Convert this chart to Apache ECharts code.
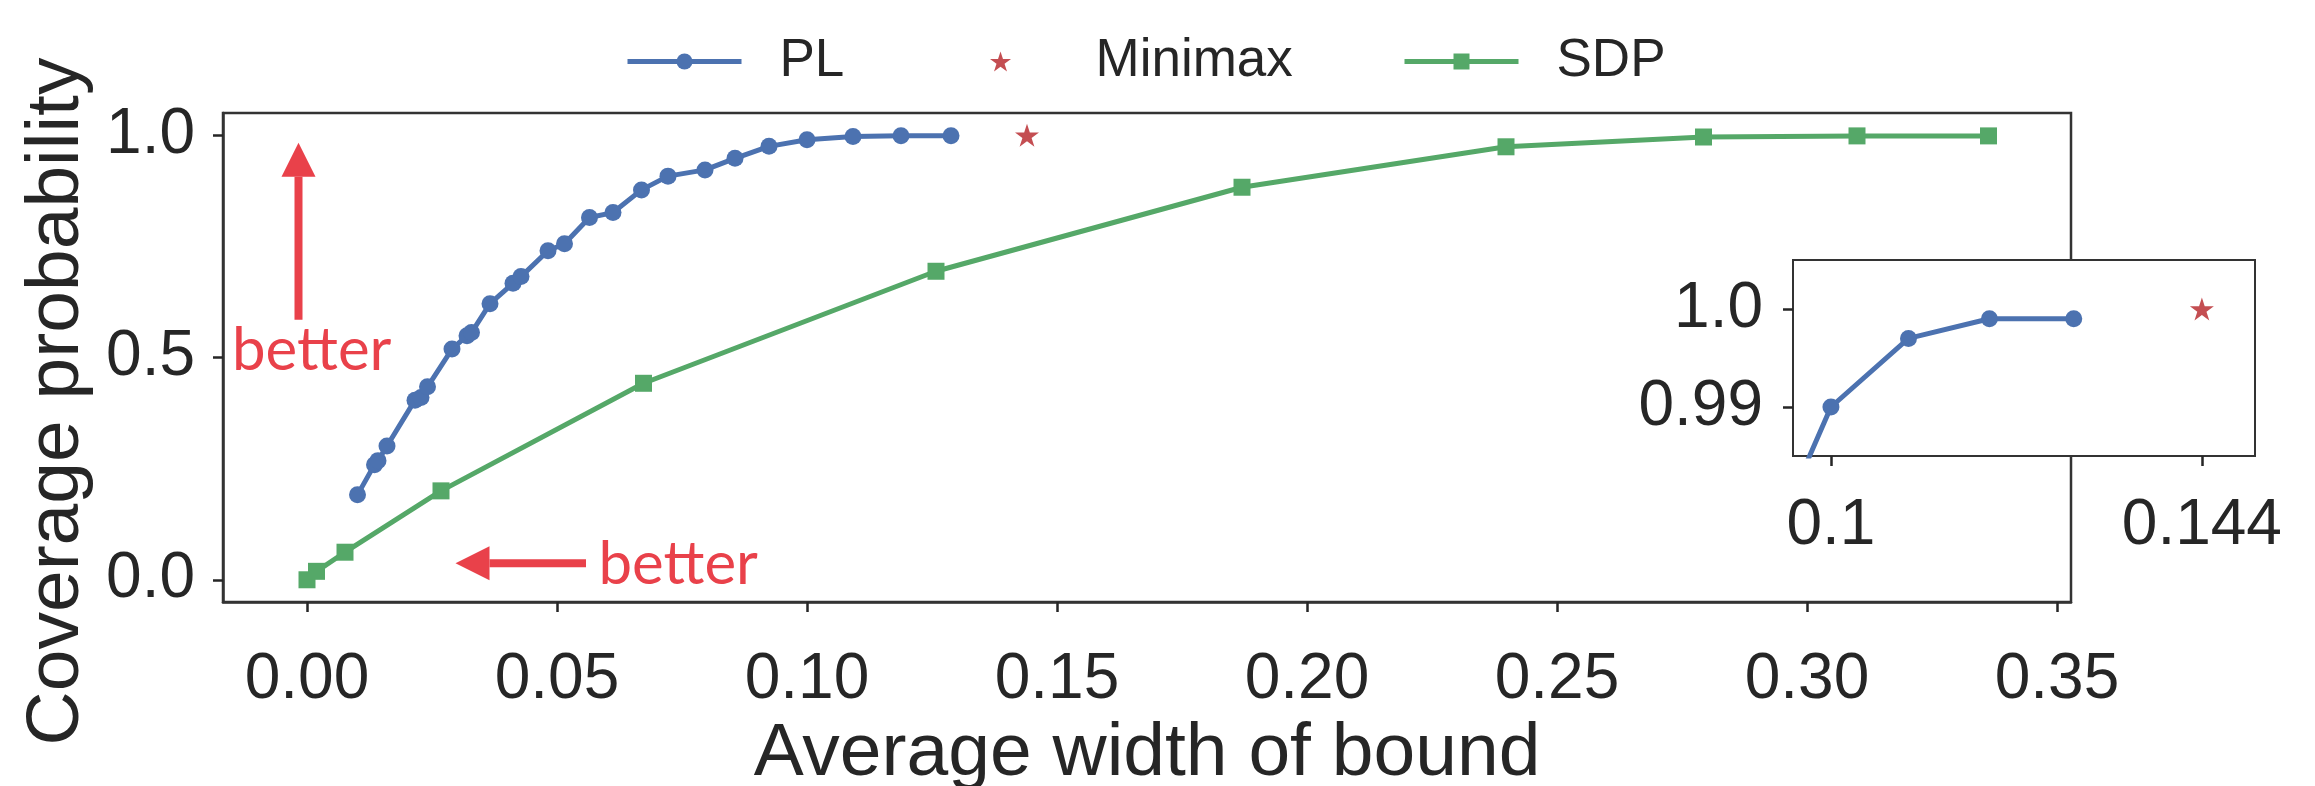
<!DOCTYPE html>
<html>
<head>
<meta charset="utf-8">
<script src="https://cdn.jsdelivr.net/npm/echarts@6/dist/echarts.min.js"></script>
<style>
  html, body { margin: 0; padding: 0; background: #fff; }
  #chart { width: 2315px; height: 786px; }
</style>
</head>
<body>
<div id="chart"></div>
<script>
// values
const plWidth = [0.0101, 0.0135, 0.0142, 0.0160, 0.0216, 0.0228, 0.0241, 0.0290, 0.0320, 0.0329,
  0.0366, 0.0412, 0.0428, 0.0482, 0.0515, 0.0565, 0.0612, 0.0669, 0.0722, 0.0796,
  0.0856, 0.0924, 0.1000, 0.1092, 0.1188, 0.1288]
const plCoverage = [0.191, 0.259, 0.268, 0.301, 0.404, 0.410, 0.434, 0.519, 0.549, 0.556,
  0.621, 0.667, 0.682, 0.740, 0.756, 0.815, 0.826, 0.877, 0.908, 0.922,
  0.948, 0.975, 0.990, 0.997, 0.999, 0.999]
const sdpWidth = [0.0000, 0.0019, 0.0076, 0.0268, 0.0673, 0.1258, 0.1870, 0.2398, 0.2793, 0.3100, 0.3363]
const sdpCoverage = [0.000, 0.019, 0.062, 0.200, 0.442, 0.694, 0.883, 0.974, 0.996, 0.9985, 0.9985]
const minimaxWidth = [0.144]
const minimaxCoverage = [1.0]

const xTicks = [0, 0.05, 0.1, 0.15, 0.2, 0.25, 0.3, 0.35]
const yTicks = [0, 0.5, 1.0]
const insetXTicks = [0.1, 0.144]
const insetXLabels = ['0.1', '0.144']
const insetYTicks = [0.99, 1.0]
const insetYLabels = ['0.99', '1.0']

const zip = (a, b) => a.map((v, i) => [v, b[i]])

const BLUE = '#4c72b0'
const GREEN = '#55a868'
const RED = '#c44e52'
const ARROW = '#e9414a'
const INK = '#262626'
const FONT = '"Liberation Sans", Arial, sans-serif'
const STAR = 'path://M50,0 L61.2,34.5 L97.6,34.5 L68.2,55.9 L79.4,90.5 L50,69.1 L20.6,90.5 L31.8,55.9 L2.4,34.5 L38.8,34.5 Z'

const tick = { show: true, inside: false, length: 10, lineStyle: { color: INK, width: 2.5 } }
const axisLine = { show: true, onZero: false, lineStyle: { color: '#333', width: 2.5 } }

function legendAt(name, left) {
  return {
    data: [name], left, top: 30,
    itemWidth: 114, itemHeight: 20,
    lineStyle: { width: 5 },
    textStyle: { fontFamily: FONT, fontSize: 53, color: INK, padding: [0, 0, 0, 33] }
  }
}

const chart = echarts.init(document.getElementById('chart'))

chart.setOption({
  animation: false,
  backgroundColor: '#fff',
  legend: [legendAt('PL', 620), legendAt('Minimax', 985), legendAt('SDP', 1397)],
  grid: [
    { left: 223, right: 244, top: 113, bottom: 184, outerBoundsMode: 'none',
      show: true, borderColor: '#333', borderWidth: 2.5, z: 0 },
    { left: 1793, width: 462, top: 260, height: 196, outerBoundsMode: 'none',
      show: true, backgroundColor: '#fff', borderColor: '#333', borderWidth: 2, z: 10 }
  ],
  xAxis: [{
    type: 'value', gridIndex: 0, min: -0.0168, max: 0.3528,
    name: 'Average width of bound', nameLocation: 'middle', nameGap: 106,
    nameTextStyle: { fontFamily: FONT, fontSize: 75, color: INK },
    axisLine, axisTick: { ...tick, customValues: xTicks },
    axisLabel: { customValues: xTicks, formatter: v => v.toFixed(2), margin: 46,
      fontFamily: FONT, fontSize: 64, color: INK },
    splitLine: { show: false }
  }, {
    type: 'value', gridIndex: 1, min: 0.0955, max: 0.1503, z: 11,
    axisLine: { show: true, onZero: false, lineStyle: { color: '#333', width: 2 } },
    axisTick: { ...tick, customValues: insetXTicks },
    axisLabel: { customValues: insetXTicks, formatter: v => insetXLabels[insetXTicks.indexOf(v)] ?? '',
      margin: 38, fontFamily: FONT, fontSize: 64, color: INK },
    splitLine: { show: false }
  }],
  yAxis: [{
    type: 'value', gridIndex: 0, min: -0.05, max: 1.05,
    name: 'Coverage probability', nameLocation: 'middle', nameGap: 128,
    nameTextStyle: { fontFamily: FONT, fontSize: 75, color: INK, padding: [0, 88, 0, 0] },
    axisLine, axisTick: { ...tick, customValues: yTicks },
    axisLabel: { customValues: yTicks, formatter: v => v.toFixed(1), margin: 28,
      fontFamily: FONT, fontSize: 64, color: INK },
    splitLine: { show: false }
  }, {
    type: 'value', gridIndex: 1, min: 0.985, max: 1.005, z: 11,
    axisLine: { show: true, onZero: false, lineStyle: { color: '#333', width: 2 } },
    axisTick: { ...tick, customValues: insetYTicks },
    axisLabel: { customValues: insetYTicks, formatter: v => insetYLabels[insetYTicks.indexOf(v)] ?? '',
      margin: 30, fontFamily: FONT, fontSize: 64, color: INK },
    splitLine: { show: false }
  }],
  series: [
    {
      name: 'PL', type: 'line', data: zip(plWidth, plCoverage),
      symbol: 'circle', symbolSize: 17, color: BLUE,
      lineStyle: { width: 5, color: BLUE }, itemStyle: { color: BLUE }
    },
    {
      name: 'Minimax', type: 'scatter', data: zip(minimaxWidth, minimaxCoverage),
      symbol: STAR, symbolSize: 24, symbolKeepAspect: true, itemStyle: { color: RED, opacity: 1 }
    },
    {
      name: 'SDP', type: 'line', data: zip(sdpWidth, sdpCoverage),
      symbol: 'rect', symbolSize: 17, color: GREEN,
      lineStyle: { width: 5, color: GREEN }, itemStyle: { color: GREEN }
    },
    // zoomed inset
    {
      name: 'PL', type: 'line', xAxisIndex: 1, yAxisIndex: 1, z: 12,
      data: zip(plWidth, plCoverage), symbol: 'circle', symbolSize: 17,
      lineStyle: { width: 5, color: BLUE }, itemStyle: { color: BLUE }
    },
    {
      name: 'Minimax', type: 'scatter', xAxisIndex: 1, yAxisIndex: 1, z: 12,
      data: zip(minimaxWidth, minimaxCoverage), symbol: STAR, symbolSize: 24,
      symbolKeepAspect: true, itemStyle: { color: RED, opacity: 1 }
    }
  ]
})

// "better" annotations, placed in data coordinates
function px(p) { return chart.convertToPixel({ gridIndex: 0 }, p) }

function arrow(from, to) {
  const a = px(from), b = px(to)
  const dx = b[0] - a[0], dy = b[1] - a[1]
  const len = Math.hypot(dx, dy), ux = dx / len, uy = dy / len
  const head = 34, half = 17
  const base = [b[0] - ux * head, b[1] - uy * head]
  return [
    { type: 'line', z: 20, shape: { x1: a[0], y1: a[1], x2: base[0], y2: base[1] },
      style: { stroke: ARROW, lineWidth: 8 } },
    { type: 'polygon', z: 20,
      shape: { points: [b, [base[0] - uy * half, base[1] + ux * half], [base[0] + uy * half, base[1] - ux * half]] },
      style: { fill: ARROW } }
  ]
}

function label(at) {
  const p = px(at)
  return { type: 'text', z: 20, x: p[0], y: p[1],
    style: { text: 'better', fill: ARROW, fontFamily: 'Lato, sans-serif', fontSize: 60,
      align: 'left', verticalAlign: 'middle' } }
}

chart.setOption({
  graphic: [
    ...arrow([-0.0017, 0.585], [-0.0017, 0.983]),
    label([-0.015, 0.515]),
    ...arrow([0.0558, 0.0374], [0.0297, 0.0374]),
    label([0.0583, 0.033])
  ]
})
</script>
</body>
</html>
